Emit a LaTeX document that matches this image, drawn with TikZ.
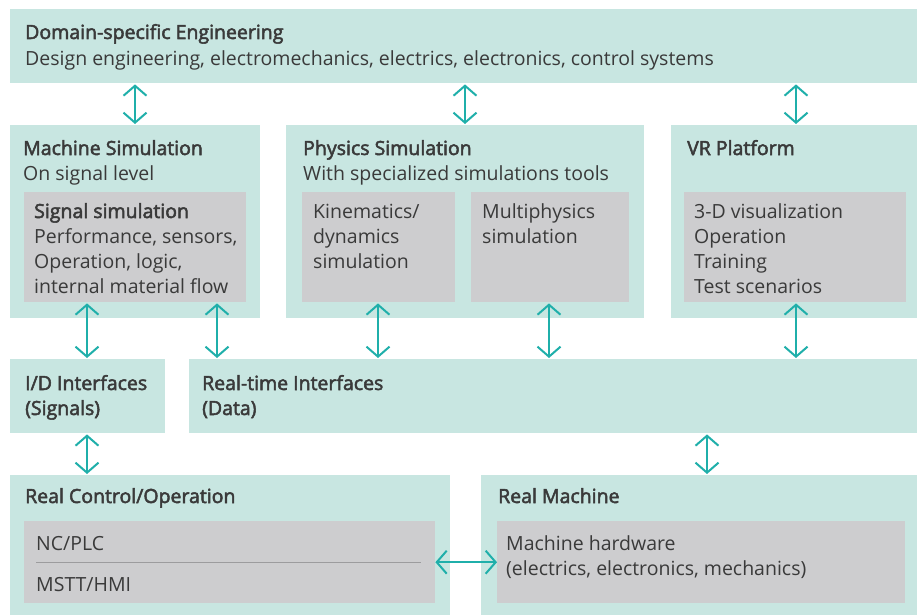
\documentclass[tikz,border=0pt]{standalone}
\usepackage{fontspec}
\setmainfont{Open Sans}[BoldFont={Open Sans}, BoldFeatures={FakeBold=2.6}]
\usetikzlibrary{arrows.meta}
\definecolor{boxteal}{HTML}{C8E6E1}
\definecolor{boxgray}{HTML}{CDCDCF}
\definecolor{linkteal}{HTML}{1FAFAA}
\definecolor{ink}{HTML}{3A3A3A}
\definecolor{rulegray}{HTML}{9C9C9E}

\begin{document}
\begin{tikzpicture}[x=1pt,y=-1pt,
        panel/.style={fill=boxteal, anchor=north west, inner sep=0pt, minimum width=#1},
        inset/.style={fill=boxgray, anchor=north west, inner sep=0pt, minimum width=#1},
        txt/.style={anchor=base west, inner sep=0pt, text=ink, align=left,
            font=\fontsize{19.5}{25}\selectfont},
        head/.style={txt, font=\fontsize{19.5}{25}\selectfont\bfseries},
        link/.style={draw=linkteal, line width=2pt,
            {Straight Barb[length=10pt,width=23pt]}-{Straight Barb[length=10pt,width=23pt]}}]
        \useasboundingbox[fill=white] (0,0) rectangle (917,615);
        % panels
        \node[panel=907pt, minimum height=74pt] (dom) at (10,9) {};
        \node[panel=250pt, minimum height=193pt] (msim) at (10,125) {};
        \node[panel=358pt, minimum height=193pt] (psim) at (286,125) {};
        \node[panel=246pt, minimum height=193pt] (vrp) at (671,125) {};
        \node[panel=155pt, minimum height=74pt] (idif) at (10,359) {};
        \node[panel=728pt, minimum height=74pt] (rtif) at (189,359) {};
        \node[panel=440pt, minimum height=140pt] (rco) at (10,475) {};
        \node[panel=436pt, minimum height=140pt] (rma) at (481,475) {};
        % insets
        \node[inset=222pt, minimum height=110pt] (msig) at (24,192) {};
        \node[inset=153pt, minimum height=110pt] (kin) at (302,192) {};
        \node[inset=158pt, minimum height=110pt] (mph) at (471,192) {};
        \node[inset=222pt, minimum height=110pt] (vrs) at (684,192) {};
        \node[inset=411pt, minimum height=82pt] (ncp) at (24,521) {};
        \node[inset=408pt, minimum height=82pt] (hw) at (497,521) {};
        \draw[rulegray, line width=0.8pt] ([xshift=12pt]ncp.west) -- ([xshift=-14pt]ncp.east);
        % texts (multi-line nodes sit on their last baseline)
        \node[head] (dom-t) at (25,39) {Domain-specific Engineering};
        \node[txt] (dom-s) at (25,66) {Design engineering, electromechanics, electrics, electronics, control systems};
        \node[head] (msim-t) at (23,155) {Machine Simulation};
        \node[txt] (msim-s) at (23,180) {On signal level};
        \node[head] (msig-t) at (34,218) {Signal simulation};
        \node[txt] (msig-s) at (34,293) {Performance, sensors,\\Operation, logic,\\internal material flow};
        \node[head] (psim-t) at (303,155) {Physics Simulation};
        \node[txt] (psim-s) at (303,180) {With specialized simulations tools};
        \node[txt] (kin-s) at (313,268) {Kinematics/\\dynamics\\simulation};
        \node[txt] (mph-s) at (482,243) {Multiphysics\\simulation};
        \node[head] (vrp-t) at (687,155) {VR Platform};
        \node[txt] (vrs-s) at (694,293) {3-D visualization\\Operation\\Training\\Test scenarios};
        \node[head] (idif-t) at (25,415) {I/D Interfaces\\(Signals)};
        \node[head] (rtif-t) at (202,415) {Real-time Interfaces\\(Data)};
        \node[head] (rco-t) at (25,503) {Real Control/Operation};
        \node[txt] (ncp-a) at (36,550) {NC/PLC};
        \node[txt] (ncp-b) at (36,591) {MSTT/HMI};
        \node[head] (rma-t) at (498,503) {Real Machine};
        \node[txt] (hw-s) at (506,575) {Machine hardware\\(electrics, electronics, mechanics)};
        % links
        \coordinate (a1) at (135,0);
        \coordinate (a2) at (465,0);
        \coordinate (a3) at (796,0);
        \coordinate (b1) at (87,0);
        \coordinate (b2) at (217,0);
        \coordinate (b3) at (378,0);
        \coordinate (b4) at (549,0);
        \coordinate (c1) at (707,0);
        \draw[link] ([yshift=-1pt]dom.south -| a1) -- ([yshift=1pt]msim.north -| a1);
        \draw[link] ([yshift=-1pt]dom.south -| a2) -- ([yshift=1pt]psim.north -| a2);
        \draw[link] ([yshift=-1pt]dom.south -| a3) -- ([yshift=1pt]vrp.north -| a3);
        \draw[link] ([yshift=-1pt]msig.south -| b1) -- ([yshift=1pt]idif.north -| b1);
        \draw[link] ([yshift=-1pt]msig.south -| b2) -- ([yshift=1pt]rtif.north -| b2);
        \draw[link] ([yshift=-1pt]kin.south -| b3) -- ([yshift=1pt]rtif.north -| b3);
        \draw[link] ([yshift=-1pt]mph.south -| b4) -- ([yshift=1pt]rtif.north -| b4);
        \draw[link] ([yshift=-1pt]vrs.south -| a3) -- ([yshift=1pt]rtif.north -| a3);
        \draw[link] ([yshift=-1pt]idif.south -| b1) -- ([yshift=1pt]rco.north -| b1);
        \draw[link] ([yshift=-1pt]rtif.south -| c1) -- ([yshift=1pt]rma.north -| c1);
        \draw[link] (ncp.east) -- (hw.west);
    \end{tikzpicture}
\end{document}
